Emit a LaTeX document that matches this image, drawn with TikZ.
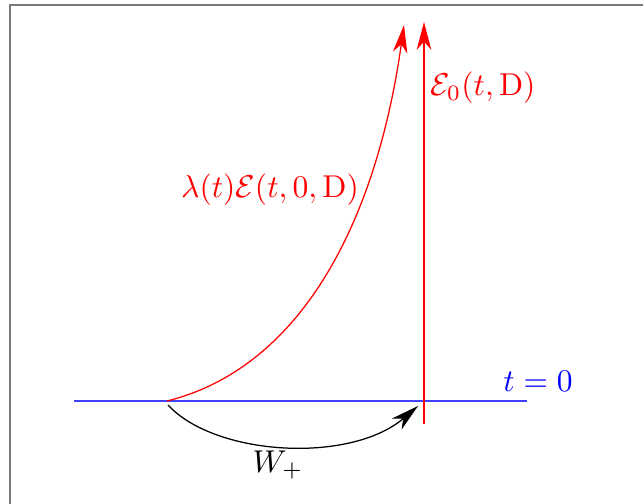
\documentclass[tikz,border=0pt]{standalone}
\usepackage{amsmath,amssymb}
\usepackage{tikz}
\usetikzlibrary{arrows.meta,calc,positioning}
\definecolor{frame}{HTML}{7A7A7A}

\begin{document}
\begin{tikzpicture}[x=0.317pt,y=0.317pt,>={Stealth[length=8.8pt,width=4.6pt,inset=2.6pt]}]
\useasboundingbox (0,0) rectangle (643,504);
\draw[frame,line width=0.7pt] (10,0) -- (10,499) -- (643,499);
\coordinate (lft) at (74,103);
\coordinate (rgt) at (527,103);
\coordinate (src) at (167,103);
\coordinate (foot) at (424,80);
\coordinate (top) at (424,482);
\coordinate (tip) at (404,479);
\coordinate (dep) at (168,99);
\coordinate (hit) at (418,98);
\draw[blue!75] (lft) -- (rgt);
\draw[red,->] (foot) -- (top);
\draw[red,->] (src) .. controls (300,136) and (376,280) .. (tip);
\draw[->] (dep) .. controls (215,48) and (350,40) .. (hit);
\node[blue] (tzero) at (538,123) {$t=0$};
\node[red] (eflux) at (483,416) {$\mathcal{E}_0(t,\mathrm{D})$};
\node[red] (lflux) at (270,314) {$\lambda(t)\mathcal{E}(t,0,\mathrm{D})$};
\node (wplus) at (278,39) {$W_+$};
\end{tikzpicture}
\end{document}
